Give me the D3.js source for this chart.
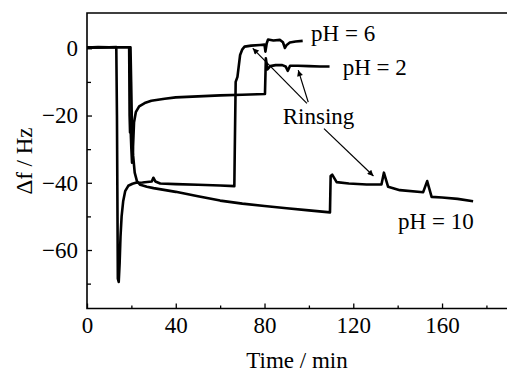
<!DOCTYPE html>
<html>
<head>
<meta charset="utf-8">
<script src="https://cdn.jsdelivr.net/npm/d3@7"></script>
<style>
  body { margin: 0; background: #fff; }
  svg text { font-family: "Liberation Serif", "DejaVu Serif", serif; fill: #000; }
</style>
</head>
<body>
<div id="chart"></div>
<script>
// Data: [time (min), frequency shift (Hz)]
const seriesPH6 = [
  [0, 0.2], [5, 0.4], [10, 0.3], [13.2, 0.4], [13.5, -20], [13.9, -68.5], [14.3, -69.5],
  [14.7, -64], [15.1, -56], [15.6, -50], [16.3, -45.5], [17.2, -42.5], [18.6, -40.9],
  [20.5, -40.3], [22, -40], [25, -39.9], [29.2, -39.6], [29.9, -38.5], [30.8, -39.6],
  [33, -40.2], [40, -40.4], [50, -40.6], [60, -40.8], [66.4, -41], [66.6, -30], [67, -10],
  [67.8, -8.5], [69, -2], [70, -0.3], [71, 0.5], [74, 0.8], [78, 1], [80, 1.1], [80.4, -1],
  [81, 1.5], [81.6, 2.6], [84, 2.3], [87, 2.5], [88.3, 1.8], [89.2, 0.1], [90, 1],
  [91.4, 1.7], [94, 2], [97.2, 2.2]
];
const seriesPH2 = [
  [0, 0.2], [10, 0.3], [19, 0.3], [19.2, -20], [19.4, -25], [19.6, -23], [20, -30],
  [20.3, -34], [20.7, -30], [21.2, -22], [22, -19], [23.5, -17.3], [26, -16.3], [29, -15.6],
  [35, -15], [40, -14.6], [50, -14.3], [60, -14], [70, -13.8], [80.2, -13.6], [80.6, -3],
  [81.3, -6.3], [82.6, -5.3], [85, -5], [88, -5], [89.5, -5.4], [90.5, -6.7], [91.5, -5.2],
  [95, -5.2], [100, -5.3], [105, -5.4], [109.3, -5.4]
];
const seriesPH10 = [
  [0, 0.2], [10, 0.3], [19.6, 0.3], [19.9, -10], [20.3, -25], [20.8, -32], [21.5, -37],
  [22.5, -39.5], [24, -40.6], [27, -41.2], [30, -41.6], [40, -42.7], [50, -44], [60, -45.3],
  [70, -46.2], [80, -46.9], [90, -47.6], [100, -48.2], [109.5, -48.8], [109.8, -38],
  [110.5, -37.6], [112.5, -39.8], [118, -40.2], [126, -40.5], [132.7, -40.5], [133.8, -37],
  [135.7, -41.2], [141, -42.2], [151.5, -42.8], [153.3, -39.5], [155.3, -44.2], [160, -44.4],
  [167, -44.8], [174, -45.5]
];

const xMajorTicks = [0, 40, 80, 120, 160];
const xMinorTicks = [20, 60, 100, 140, 180];
const yMajorTicks = [0, -20, -40, -60];
const yMinorTicks = [-10, -30, -50, -70];

// labels: [text, time, shift]
const curveLabels = [
  ["pH = 6", 101, 2.3],
  ["pH = 2", 115.2, -7.8],
  ["pH = 10", 140.2, -53.9],
  ["Rinsing", 88.2, -22.4]
];
// arrows: [fromTime, fromShift, toTime, toShift]
const rinsingArrows = [
  [99.1, -16.4, 74.7, 0],
  [99.7, -16.0, 95.2, -6.5],
  [106.8, -23.9, 129.1, -38]
];

const width = 507;
const height = 372;
const plotLeft = 87, plotTop = 13, plotBottom = 308.5;
const serif = "'Liberation Serif', 'DejaVu Serif', serif";

const x = d3.scaleLinear().domain([0, 190]).range([plotLeft, plotLeft + 2.219 * 190]);
const y = d3.scaleLinear().domain([-77.4, 10.5]).range([plotBottom, plotTop]);

const svg = d3.select("#chart").append("svg")
  .attr("width", width)
  .attr("height", height)
  .attr("font-family", serif);

svg.append("defs").append("marker")
  .attr("id", "head")
  .attr("viewBox", "0 0 10 10")
  .attr("refX", 10).attr("refY", 5)
  .attr("markerWidth", 9).attr("markerHeight", 6)
  .attr("markerUnits", "userSpaceOnUse")
  .attr("orient", "auto")
  .append("path")
  .attr("d", "M0,0L10,5L0,10Z")
  .attr("fill", "#000");

// X axis, ticks pointing inward
const xAxis = svg.append("g")
  .attr("transform", "translate(0," + plotBottom + ")")
  .call(d3.axisBottom(x).tickValues(xMajorTicks).tickSizeInner(-5).tickSizeOuter(0).tickPadding(8));
xAxis.attr("font-family", serif).attr("font-size", 23);
xAxis.select(".domain").remove();
xAxis.selectAll("line").attr("stroke-width", 1.3);

svg.append("g")
  .attr("transform", "translate(0," + plotBottom + ")")
  .call(d3.axisBottom(x).tickValues(xMinorTicks).tickSizeInner(-3).tickSizeOuter(0).tickFormat(""))
  .call(g => g.select(".domain").remove())
  .selectAll("line").attr("stroke-width", 1.3);

// Y axis
const yAxis = svg.append("g")
  .attr("transform", "translate(" + plotLeft + ",0)")
  .call(d3.axisLeft(y).tickValues(yMajorTicks).tickSizeInner(-5).tickSizeOuter(0).tickPadding(9)
    .tickFormat(d => d === 0 ? "0" : "\u2212" + Math.abs(d)));
yAxis.attr("font-family", serif).attr("font-size", 23);
yAxis.select(".domain").remove();
yAxis.selectAll("line").attr("stroke-width", 1.3);

svg.append("g")
  .attr("transform", "translate(" + plotLeft + ",0)")
  .call(d3.axisLeft(y).tickValues(yMinorTicks).tickSizeInner(-4).tickSizeOuter(0).tickFormat(""))
  .call(g => g.select(".domain").remove())
  .selectAll("line").attr("stroke-width", 1.3);

// Frame (right side falls outside the picture)
svg.append("path")
  .attr("d", "M" + width + "," + plotTop + "H" + plotLeft + "V" + plotBottom + "H" + width)
  .attr("fill", "none")
  .attr("stroke", "#000")
  .attr("stroke-width", 1.6);

// Curves
const line = d3.line()
  .x(d => x(d[0]))
  .y(d => y(d[1]));

svg.append("g")
  .selectAll("path")
  .data([seriesPH6, seriesPH2, seriesPH10]).enter()
  .append("path")
  .attr("d", line)
  .attr("fill", "none")
  .attr("stroke", "#000")
  .attr("stroke-width", 2.6)
  .attr("stroke-linejoin", "round");

// Arrows
svg.append("g")
  .selectAll("line")
  .data(rinsingArrows).enter()
  .append("line")
  .attr("x1", d => x(d[0])).attr("y1", d => y(d[1]))
  .attr("x2", d => x(d[2])).attr("y2", d => y(d[3]))
  .attr("stroke", "#000")
  .attr("stroke-width", 1.2)
  .attr("marker-end", "url(#head)");

// Labels
svg.append("g")
  .selectAll("text")
  .data(curveLabels).enter()
  .append("text")
  .attr("x", d => x(d[1]))
  .attr("y", d => y(d[2]))
  .attr("font-size", 23)
  .text(d => d[0]);

// Axis titles
svg.append("text")
  .attr("x", 297)
  .attr("y", 368)
  .attr("text-anchor", "middle")
  .attr("font-size", 23)
  .text("Time / min");

svg.append("text")
  .attr("transform", "translate(32,161) rotate(-90)")
  .attr("text-anchor", "middle")
  .attr("font-size", 23)
  .text("\u0394f / Hz");
</script>
</body>
</html>
